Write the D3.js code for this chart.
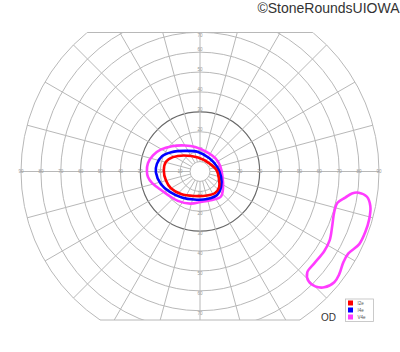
<!DOCTYPE html>
<meta charset="utf-8">
<style>
body { margin: 0; background: #fff; }
.grid { fill: none; stroke: #b8b8b8; stroke-width: 1; }
.ring30 { fill: none; stroke: #6a6a6a; stroke-width: 1.2; }
.tick { font: 4.5px "Liberation Sans", Arial, sans-serif; fill: #9a9a9a; text-anchor: middle; dominant-baseline: central; }
.isopter { fill: none; stroke-width: 2.6; stroke-linejoin: round; }
.legend text { font: 4.5px "Liberation Sans", Arial, sans-serif; fill: #555; dominant-baseline: central; }
</style>
<svg width="400" height="352"></svg>
<script src="https://cdn.jsdelivr.net/npm/d3@7"></script>
<script>

// grid
var rings = [10, 20, 30, 40, 50, 60, 70, 80, 90];
var meridians = [0, 15, 30, 45, 60, 75, 90, 105, 120, 135, 150, 165, 180,
                 195, 210, 225, 240, 255, 270, 285, 300, 315, 330, 345];
var hLabels = [10, 20, 30, 40, 50, 60, 70, 80, 90];
var vLabels = [10, 20, 30, 40, 50, 60, 70];

// isopters: [meridian (deg), eccentricity (deg)]
var I2e = [[4, 8.4], [43, 6.2], [98, 7.1], [135, 11.4], [152, 15.4], [164, 17.8],
           [178, 18.2], [195, 17.7], [210, 16.9], [230, 14.8], [256, 12.7],
           [286, 12.6], [305, 13.2], [321, 12.4], [338, 10.3]];
var I4e = [[16, 8.9], [56, 8.2], [96, 9.9], [126, 12.8], [146, 17.4], [158, 20.6],
           [170, 22.0], [181, 22.2], [198, 20.6], [214, 18.3], [235, 15.9],
           [258, 14.4], [284, 14.3], [306, 14.6], [324, 13.1], [346, 10.9]];
var V4e = [[17, 10.5], [42, 10.2], [73, 10.5], [101, 12.6], [120, 15.1], [138, 19.0],
           [151, 22.6], [161, 25.0], [171, 26.5], [180, 26.7], [186, 26.3],
           [193, 24.9], [204, 22.0], [216, 20.0], [233, 18.5], [253, 16.9],
           [274, 15.2], [293, 15.6], [310, 16.4], [324, 14.3], [347, 11.6]];
var V4eIsland = [[352.4, 80.5], [351.4, 84.9], [348.5, 87.4], [344.3, 88.4], [339.9, 88.5],
                 [335.5, 88.0], [331, 85.2], [327.7, 85.3], [323.6, 87.0], [320.5, 87.5],
                 [317, 85.4], [315.1, 81.8], [314.7, 77.6], [316.8, 74.0], [321.2, 73.7],
                 [327.3, 74.2], [332.1, 73.8], [337.6, 71.9], [343.2, 70.5], [347.1, 70.8],
                 [349.8, 74.2], [351.8, 77.2]];

var targets = ["I2e", "I4e", "V4e"];

var svg = d3.select("svg"),
    cx = 200,
    cy = 171.5,
    clipTop = 32.5,
    clipBottom = 320;

var r = d3.scaleLinear().domain([0, 90]).range([0, 179]);
var color = d3.scaleOrdinal().domain(targets).range(["#ff0000", "#0000ff", "#ff3cff"]);

function px(a, e) { return cx + r(e) * Math.cos(a * Math.PI / 180); }
function py(a, e) { return cy - r(e) * Math.sin(a * Math.PI / 180); }

svg.append("defs").append("clipPath").attr("id", "field")
  .append("rect")
    .attr("x", 0).attr("y", clipTop)
    .attr("width", 400).attr("height", clipBottom - clipTop);

var g = svg.append("g").attr("clip-path", "url(#field)");

g.selectAll("circle.grid")
  .data(rings)
  .enter().append("circle")
    .attr("class", function(d) { return d == 30 ? "ring30" : "grid"; })
    .attr("cx", cx).attr("cy", cy)
    .attr("r", function(d) { return r(d); });

g.append("circle")
    .attr("class", "grid")
    .attr("cx", cx).attr("cy", cy)
    .attr("r", r(5));

g.selectAll("line.spoke")
  .data(meridians)
  .enter().append("line")
    .attr("class", "grid spoke")
    .attr("x1", function(d) { return px(d, 5); })
    .attr("y1", function(d) { return py(d, 5); })
    .attr("x2", function(d) { return px(d, 90); })
    .attr("y2", function(d) { return py(d, 90); });

// flat top and bottom edges of the field
[clipTop, clipBottom].forEach(function(y) {
  var w = Math.sqrt(r(90) * r(90) - (y - cy) * (y - cy));
  svg.append("line")
      .attr("class", "grid")
      .attr("x1", cx - w).attr("x2", cx + w)
      .attr("y1", y).attr("y2", y);
});

// tick labels
hLabels.forEach(function(v) {
  [-1, 1].forEach(function(s) {
    svg.append("text").attr("class", "tick")
        .attr("x", cx + s * r(v)).attr("y", cy)
        .text(v);
  });
});
vLabels.forEach(function(v) {
  [-1, 1].forEach(function(s) {
    var y = cy + s * (r(v) + 2.5);
    y = Math.max(clipTop + 3, Math.min(clipBottom - 5, y));
    svg.append("text").attr("class", "tick")
        .attr("x", cx).attr("y", y)
        .text(v);
  });
});

// isopters
var line = d3.line()
    .x(function(d) { return px(d[0], d[1]); })
    .y(function(d) { return py(d[0], d[1]); })
    .curve(d3.curveCatmullRomClosed.alpha(0.5));

var iso = [
  {t: "V4e", pts: V4e},
  {t: "V4e", pts: V4eIsland},
  {t: "I4e", pts: I4e},
  {t: "I2e", pts: I2e}
];

svg.selectAll("path.isopter")
  .data(iso)
  .enter().append("path")
    .attr("class", "isopter")
    .attr("stroke", function(d) { return color(d.t); })
    .attr("d", function(d) { return line(d.pts); });

// legend
var lg = svg.append("g").attr("class", "legend").attr("transform", "translate(345.5,299)");
lg.append("rect")
    .attr("width", 28).attr("height", 22.5)
    .attr("fill", "#fff").attr("stroke", "#bdbdbd").attr("stroke-width", 0.8);
lg.selectAll("rect.sw")
  .data(targets)
  .enter().append("rect")
    .attr("class", "sw")
    .attr("x", 2.5)
    .attr("y", function(d, i) { return 1.5 + i * 7; })
    .attr("width", 5).attr("height", 5)
    .attr("fill", function(d) { return color(d); });
lg.selectAll("text")
  .data(targets)
  .enter().append("text")
    .attr("x", 12)
    .attr("y", function(d, i) { return 4 + i * 7; })
    .text(function(d) { return d; });

svg.append("text")
    .attr("x", 328.5).attr("y", 320.5)
    .attr("text-anchor", "middle")
    .attr("font-family", "Liberation Sans, Arial, sans-serif")
    .attr("font-size", 10)
    .attr("fill", "#333")
    .text("OD");

svg.append("text")
    .attr("x", 399.5).attr("y", 13)
    .attr("text-anchor", "end")
    .attr("font-family", "Liberation Sans, Arial, sans-serif")
    .attr("font-size", 14)
    .attr("fill", "#333")
    .text("©StoneRoundsUIOWA");

</script>
